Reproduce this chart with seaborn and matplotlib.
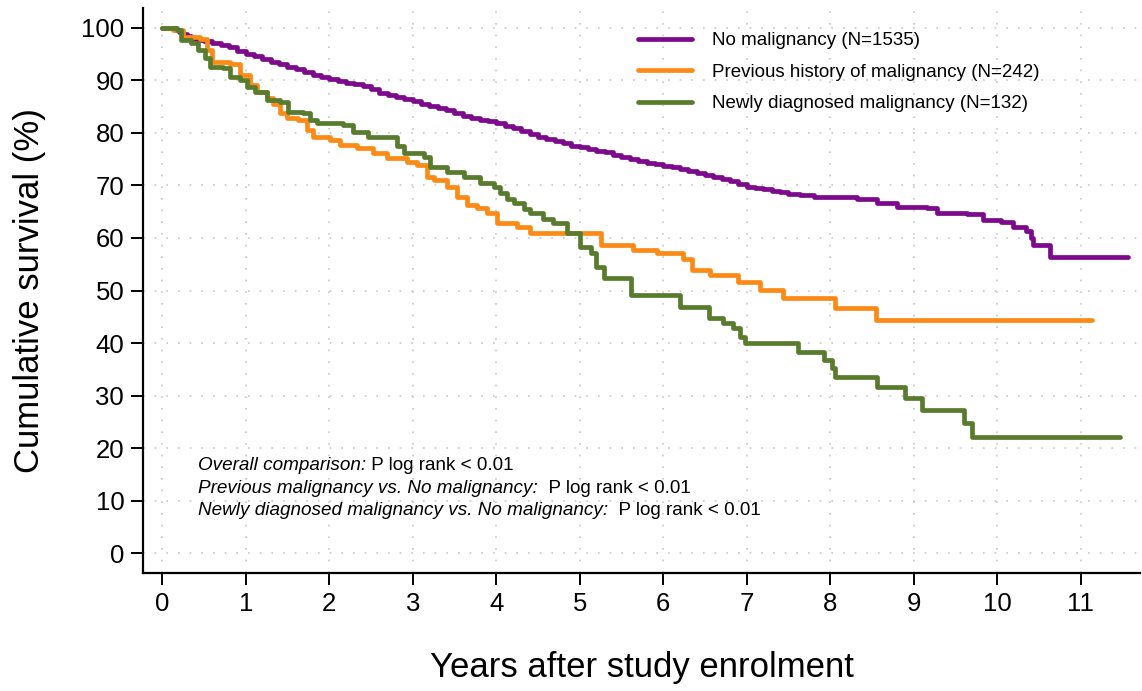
import matplotlib
matplotlib.use("Agg")
import matplotlib.pyplot as plt
from matplotlib.lines import Line2D
import seaborn as sns
import pandas as pd

# ---------------- data ----------------
groups = ["No malignancy (N=1535)",
          "Previous history of malignancy (N=242)",
          "Newly diagnosed malignancy (N=132)"]

no_t = [0, 0.15, 0.2, 0.25, 0.3, 0.35, 0.4, 0.5, 0.6, 0.7, 0.8, 0.9, 1.0, 1.1, 1.2, 1.3, 1.4,
        1.5, 1.6, 1.7, 1.8, 1.9, 2.0, 2.1, 2.2, 2.3, 2.4, 2.5, 2.6, 2.7, 2.8, 2.9, 3.0, 3.1,
        3.2, 3.3, 3.4, 3.5, 3.6, 3.7, 3.8, 3.9, 4.0, 4.1, 4.2, 4.3, 4.4, 4.5, 4.6, 4.7, 4.8,
        4.9, 5.0, 5.1, 5.2, 5.3, 5.4, 5.5, 5.6, 5.7, 5.8, 5.9, 6.0, 6.1, 6.2, 6.3, 6.4, 6.5,
        6.6, 6.7, 6.8, 6.9, 7.0, 7.1, 7.2, 7.3, 7.4, 7.5, 7.64, 7.8, 8.0, 8.32, 8.56, 8.8,
        9.16, 9.28, 9.64, 9.83, 10.04, 10.19, 10.35, 10.4, 10.43, 10.63, 11.57]
no_s = [100, 99.6, 99.2, 98.8, 98.4, 98.0, 97.8, 97.5, 97.1, 96.8, 96.3, 95.7, 95.1, 94.6, 94.1,
        93.6, 93.1, 92.6, 92.1, 91.6, 91.1, 90.6, 90.2, 89.9, 89.6, 89.3, 88.9, 88.3, 87.6,
        87.2, 86.8, 86.4, 86.0, 85.6, 85.2, 84.8, 84.3, 83.8, 83.3, 82.9, 82.5, 82.2, 81.9,
        81.4, 80.9, 80.3, 79.8, 79.3, 78.9, 78.4, 78.0, 77.6, 77.3, 77.0, 76.6, 76.3, 75.9,
        75.5, 75.1, 74.7, 74.3, 74.0, 73.8, 73.5, 73.1, 72.8, 72.4, 72.0, 71.6, 71.2, 70.8,
        70.3, 69.8, 69.6, 69.3, 69.0, 68.7, 68.4, 68.1, 67.9, 67.8, 67.5, 66.7, 65.9, 65.7,
        64.7, 64.6, 63.5, 63.0, 62.1, 61.4, 60.0, 58.6, 56.3, 56.3]

prev_t = [0, 0.13, 0.25, 0.45, 0.54, 0.6, 0.81, 0.93, 1.05, 1.14, 1.26, 1.33, 1.41, 1.49, 1.63,
          1.73, 1.81, 2.01, 2.13, 2.33, 2.53, 2.69, 2.93, 3.05, 3.17, 3.25, 3.41, 3.53, 3.65,
          3.77, 3.89, 4.01, 4.25, 4.41, 5.26, 5.64, 5.93, 6.24, 6.35, 6.56, 6.9, 7.16, 7.43,
          8.06, 8.55, 11.14]
prev_s = [100, 99.6, 98.3, 97.9, 95.8, 93.5, 93.1, 91.0, 89.1, 87.8, 86.6, 85.6, 83.8, 82.8, 82.5,
          80.6, 79.3, 78.7, 77.7, 77.1, 76.2, 75.2, 74.5, 73.9, 71.6, 71.0, 69.7, 67.8, 66.3,
          65.7, 64.8, 62.9, 62.1, 60.9, 58.7, 57.7, 57.1, 56.0, 53.9, 53.0, 51.6, 50.1, 48.6,
          46.7, 44.4, 44.4]

new_t = [0, 0.18, 0.22, 0.34, 0.43, 0.51, 0.57, 0.73, 0.81, 0.93, 1.02, 1.11, 1.26, 1.41, 1.51,
         1.69, 1.77, 1.85, 2.17, 2.29, 2.46, 2.81, 2.89, 3.13, 3.21, 3.41, 3.61, 3.81, 3.97, 4.05,
         4.13, 4.21, 4.33, 4.41, 4.56, 4.68, 4.85, 5.0, 5.13, 5.19, 5.29, 5.62, 6.2, 6.55, 6.72,
         6.84, 6.92, 6.98, 7.62, 7.92, 8.02, 8.06, 8.56, 8.9, 9.1, 9.6, 9.7, 11.47]
new_s = [100, 99.6, 97.7, 97.1, 95.8, 94.3, 92.6, 92.3, 90.7, 90.1, 88.8, 87.8, 86.3, 85.9, 84.0,
         83.8, 82.5, 81.9, 81.5, 80.2, 79.2, 77.5, 76.2, 75.4, 73.5, 72.6, 71.6, 70.5, 69.7, 68.6,
         67.5, 66.7, 65.6, 64.8, 63.6, 62.8, 60.9, 58.3, 57.1, 54.5, 52.4, 49.1, 46.9, 44.8, 43.8,
         42.9, 41.1, 40.0, 38.3, 36.8, 35.2, 33.5, 31.6, 29.5, 27.2, 24.8, 22.1, 22.1]

x_ticks = list(range(0, 12))
y_ticks = list(range(0, 101, 10))

annot_italic = ["Overall comparison:",
                "Previous malignancy vs. No malignancy:",
                "Newly diagnosed malignancy vs. No malignancy:"]
annot_plain = [" P log rank < 0.01", "  P log rank < 0.01", "  P log rank < 0.01"]

colors = ["#7d0a8c", "#fb8a17", "#587b2e"]

# ---------------- build frame ----------------
frames = []
for g, t, s in zip(groups, [no_t, prev_t, new_t], [no_s, prev_s, new_s]):
    frames.append(pd.DataFrame({"time": t, "surv": s, "group": g}))
df = pd.concat(frames, ignore_index=True)

# ---------------- plot ----------------
sns.set_theme(style="white")
plt.rcParams["font.family"] = ["Liberation Sans", "DejaVu Sans"]
plt.rcParams["text.color"] = "black"
plt.rcParams["axes.labelcolor"] = "black"
plt.rcParams["xtick.color"] = "black"
plt.rcParams["ytick.color"] = "black"

fig = plt.figure(figsize=(11.42, 6.91), dpi=100)
ax = fig.add_axes([143 / 1142, 1 - 573 / 691, (1140 - 143) / 1142, (573 - 8) / 691])

sns.lineplot(data=df, x="time", y="surv", hue="group", hue_order=groups,
             palette=dict(zip(groups, colors)), estimator=None, sort=False,
             drawstyle="steps-post", linewidth=3.4, solid_capstyle="round",
             legend=False, ax=ax, zorder=3)

ax.set_xlim(-0.23, 11.71)
ax.set_ylim(-3.8, 103.8)
ax.set_xticks(x_ticks)
ax.set_yticks(y_ticks)
ax.tick_params(axis="both", which="major", direction="out", length=8.5, width=1.4,
               color="black", labelcolor="black", labelsize=18.5, pad=5,
               bottom=True, left=True)

ax.grid(True, which="major", color="#c8c8c8", linestyle=(0, (1, 6)), linewidth=1.2)
for side in ["top", "right"]:
    ax.spines[side].set_visible(False)
for side in ["left", "bottom"]:
    ax.spines[side].set_color("black")
    ax.spines[side].set_linewidth(1.6)

ax.set_xlabel("Years after study enrolment", fontsize=25)
ax.xaxis.set_label_coords(0.5, -0.168)
ax.xaxis.label.set_verticalalignment("center")
ax.set_ylabel("Cumulative survival (%)", fontsize=25)
ax.yaxis.set_label_coords(-0.114, 0.5)
ax.yaxis.label.set_verticalalignment("center")

handles = [Line2D([0], [0], color=c, linewidth=3.4) for c in colors]
ax.legend(handles, groups, loc="upper left", bbox_to_anchor=(0.4965, 0.957),
          frameon=False, fontsize=13.5, handlelength=2.88, handletextpad=1.07,
          labelspacing=0.76, borderpad=0, borderaxespad=0)

ys = [15.8, 11.5, 7.2]
for it, pl, y in zip(annot_italic, annot_plain, ys):
    t1 = ax.text(0.43, y, it, fontsize=13.6, style="italic", va="baseline", ha="left")
    ax.annotate(pl, xy=(1, 0), xycoords=t1, va="bottom", ha="left", fontsize=13.6)

fig.savefig("out.png", dpi=100)
